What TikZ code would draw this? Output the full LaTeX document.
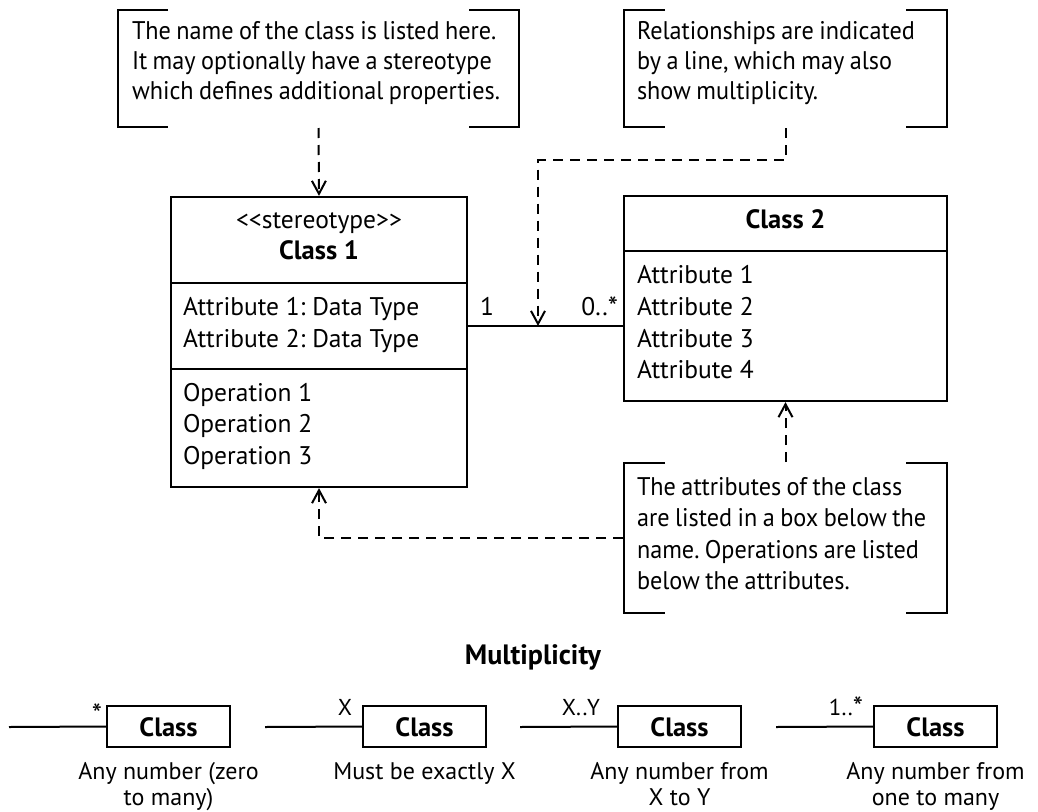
\documentclass[tikz,border=0pt]{standalone}
\usepackage{fontspec}
\setmainfont{PT Sans}
\newfontfamily\notefont{PT Sans}[FakeStretch=0.95,WordSpace=0.85]
\usetikzlibrary{arrows.meta}
\frenchspacing
\newcommand\mystarsym{\raisebox{-2pt}{\fontsize{29}{29}\selectfont *}}
\begin{document}
\begin{tikzpicture}[x=1pt,y=-1pt,line width=2pt,
  box/.style={draw,line width=2.2pt,rectangle,inner sep=0pt},
  area/.style={inner sep=0pt,rectangle},
  txt/.style={anchor=base west,inner sep=0pt,font=\fontsize{25.5}{30}\selectfont},
  ntxt/.style={anchor=base west,inner sep=0pt,font=\notefont\fontsize{25.5}{30}\selectfont},
  ctxt/.style={anchor=base,inner sep=0pt,font=\fontsize{25.5}{30}\selectfont},
  btxt/.style={anchor=base,inner sep=0pt,font=\fontsize{26.5}{30}\selectfont\bfseries},
  mtxt/.style={anchor=base,inner sep=0pt,font=\fontsize{23}{25}\selectfont},
  captxt/.style={anchor=base,inner sep=0pt,font=\fontsize{24}{28}\selectfont},
  dline/.style={line width=2pt,dash pattern=on 10pt off 7pt},
  arr/.style={-{Straight Barb[length=13pt,width=14pt,line width=2pt]}},
  bracket/.style={line width=2.2pt}
]
\useasboundingbox (0,0) rectangle (1038,811);

% ---------- note 1 ----------
\node[area,minimum width=401pt,minimum height=117pt] (n1) at (318.5,68.5) {};
\draw[bracket] (168,10) -- (118,10) -- (118,127) -- (168,127);
\draw[bracket] (469,10) -- (519,10) -- (519,127) -- (469,127);
\node[ntxt] (n1a) at (131,39) {The name of the class is listed here.};
\node[ntxt] (n1b) at (131,69) {It may optionally have a stereotype};
\node[ntxt] (n1c) at (131,99) {which defines additional properties.};

% ---------- note 2 ----------
\node[area,minimum width=323pt,minimum height=117pt] (n2) at (785.5,68.5) {};
\draw[bracket] (665,10) -- (624,10) -- (624,127) -- (665,127);
\draw[bracket] (906,10) -- (947,10) -- (947,127) -- (906,127);
\node[ntxt] (n2a) at (636,39) {Relationships are indicated};
\node[ntxt] (n2b) at (636,69) {by a line, which may also};
\node[ntxt] (n2c) at (636,99) {show multiplicity.};

% ---------- class 1 ----------
\node[box,minimum width=296pt,minimum height=290pt] (c1) at (319,342) {};
\draw[line width=2.2pt] (171,283) -- (467,283);
\draw[line width=2.2pt] (171,369) -- (467,369);
\node[ctxt] (c1s) at (319,228) {{<}{<}stereotype{>}{>}};
\node[btxt] (c1n) at (319,259) {Class 1};
\node[txt] (c1a1) at (182,315) {Attribute 1: Data Type};
\node[txt] (c1a2) at (182,347) {Attribute 2: Data Type};
\node[txt] (c1o1) at (182,401) {Operation 1};
\node[txt] (c1o2) at (182,432) {Operation 2};
\node[txt] (c1o3) at (182,464) {Operation 3};

% ---------- class 2 ----------
\node[box,minimum width=323pt,minimum height=205pt] (c2) at (785.5,298.5) {};
\draw[line width=2.2pt] (624,251) -- (947,251);
\node[btxt] (c2n) at (785.5,228) {Class 2};
\node[txt] (c2a1) at (636,283) {Attribute 1};
\node[txt] (c2a2) at (636,315) {Attribute 2};
\node[txt] (c2a3) at (636,347) {Attribute 3};
\node[txt] (c2a4) at (636,378) {Attribute 4};

% ---------- association ----------
\coordinate (as1) at (467,326);
\coordinate (as2) at (624,326);
\coordinate (asm) at (538,326);
\draw (as1) -- (as2);
\node[txt] (m1) at (479,315) {1};
\node[txt,anchor=base east] (m2) at (619,315) {0..\mystarsym};

% ---------- note 3 ----------
\node[area,minimum width=323pt,minimum height=150pt] (n3) at (785.5,538) {};
\draw[bracket] (665,463) -- (624,463) -- (624,613) -- (665,613);
\draw[bracket] (906,463) -- (947,463) -- (947,613) -- (906,613);
\node[ntxt] (n3a) at (636,495) {The attributes of the class};
\node[ntxt] (n3b) at (636,526) {are listed in a box below the};
\node[ntxt] (n3c) at (636,558) {name. Operations are listed};
\node[ntxt] (n3d) at (636,589) {below the attributes.};

% ---------- dashed pointers ----------
\draw[dline,arr] (n1.south) -- (c1.north);
\draw[dline,arr] (n2.south) -- ++(0,32) -| (asm);
\draw[dline,arr] (n3.north) -- (c2.south);
\draw[dline,arr] (n3.west) -| (c1.south);

% ---------- multiplicity ----------
\node[btxt,font=\fontsize{28}{30}\selectfont\bfseries] (mt) at (533,664) {Multiplicity};

\foreach \i/\x/\lab/\lx/\ly/\ca/\cb in {
  0/107/{\mystarsym}/97/722/{Any number (zero}/{to many)},
  1/363/{X}/345/715/{Must be exactly X}/{},
  2/618/{X..Y}/581/715/{Any number from}/{X to Y},
  3/874/{1..\mystarsym}/846/715/{Any number from}/{one to many}}{
  \node[box,minimum width=123pt,minimum height=41pt] (k\i) at (\x+61.5,726.5) {};
  \node[btxt] (kt\i) at (\x+61.5,736) {Class};
  \coordinate (ks\i) at (\x-98,727);
  \draw (ks\i) -- (k\i.west);
  \node[mtxt] (kl\i) at (\lx,\ly) {\lab};
  \node[captxt] (kc\i) at (\x+61.5,779) {\ca};
  \node[captxt] (kd\i) at (\x+61.5,805) {\cb};
}
\end{tikzpicture}
\end{document}
